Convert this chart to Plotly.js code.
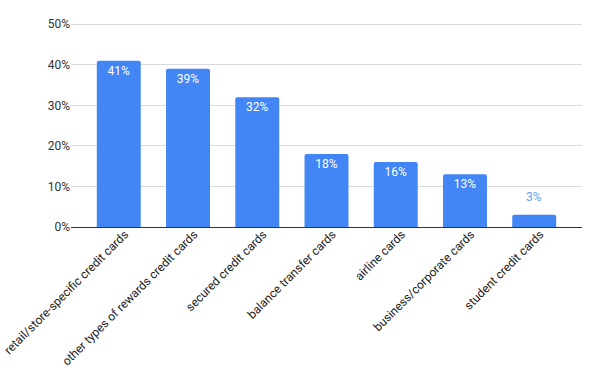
<!DOCTYPE html>
<html>
<head>
<meta charset="utf-8">
<script src="https://cdn.plot.ly/plotly-3.0.1.min.js"></script>
<style>html,body{margin:0;padding:0;background:#fff}#chart{width:600px;height:386px}</style>
</head>
<body>
<div id="chart"></div>
<script>
const categories = [
  "retail/store-specific credit cards",
  "other types of rewards credit cards",
  "secured credit cards",
  "balance transfer cards",
  "airline cards",
  "business/corporate cards",
  "student credit cards"
];
const values = [0.41, 0.39, 0.32, 0.18, 0.16, 0.13, 0.03];
const yTickVals = [0, 0.1, 0.2, 0.3, 0.4, 0.5];
const yTickText = ["0%", "10%", "20%", "30%", "40%", "50%"];

const barColor = "#4285F4";
const labels = values.map(v => Math.round(v * 100) + "%");
const isSmall = values.map(v => v < 0.08);

const annotations = [];
values.forEach((v, i) => {
  if (isSmall[i]) {
    annotations.push({
      x: categories[i], y: v, xref: "x", yref: "y",
      text: labels[i], showarrow: false, yanchor: "bottom", yshift: 9,
      font: {family: "Roboto, sans-serif", size: 12, color: "#6a9ef5"}
    });
  }
});

Plotly.newPlot("chart", [{
  type: "bar",
  x: categories,
  y: values,
  marker: {color: barColor, cornerradius: 2},
  text: labels.map((t, i) => isSmall[i] ? "" : t),
  textposition: "inside",
  insidetextanchor: "end",
  textfont: {family: "Roboto, sans-serif", size: 12, color: "#ffffff"},
  cliponaxis: false,
  hoverinfo: "none"
}], {
  width: 600, height: 386,
  margin: {l: 71, r: 18, t: 23, b: 159},
  paper_bgcolor: "#fff", plot_bgcolor: "#fff",
  bargap: 0.365,
  showlegend: false,
  annotations: annotations,
  font: {family: "Roboto, sans-serif", size: 12, color: "#333"},
  xaxis: {
    range: [-0.69, 6.69],
    tickangle: -45,
    tickfont: {family: "Roboto, sans-serif", size: 12, color: "#222"},
    ticklabelshift: 6, ticklabelstandoff: -3,
    showgrid: false, zeroline: false, showline: false, ticks: "", fixedrange: true
  },
  yaxis: {
    range: [0, 0.503],
    tickvals: yTickVals, ticktext: yTickText,
    tickfont: {family: "Roboto, sans-serif", size: 12, color: "#333"},
    gridcolor: "#d9d9d9", gridwidth: 1,
    zeroline: true, zerolinecolor: "#333", zerolinewidth: 1,
    showline: false, ticks: "", ticklen: 0, fixedrange: true
  }
}, {displayModeBar: false, staticPlot: true});
</script>
</body>
</html>
